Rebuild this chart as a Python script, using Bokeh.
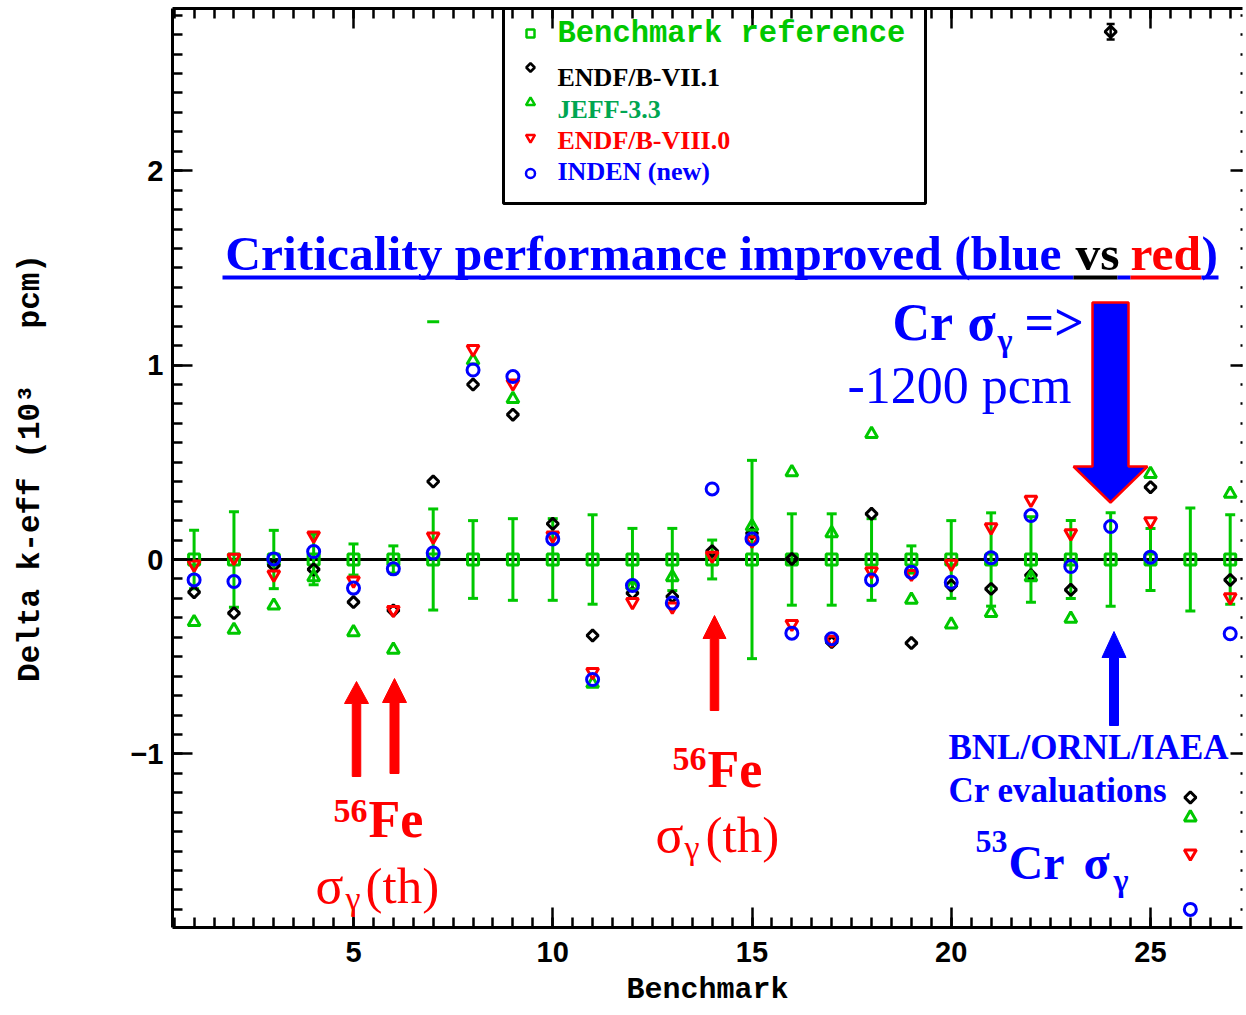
import math
import numpy as np
from bokeh.plotting import figure
from bokeh.models import (Range1d, LinearAxis, FixedTicker, Label, Whisker,
                          TeeHead, ColumnDataSource, Span, CustomLabelingPolicy)
from bokeh.embed import file_html
from bokeh.resources import INLINE

nan = float("nan")

# ---------------- data (units of 1000 pcm) ----------------
benchmark = list(range(1, 28))
reference = [0.0] * 27
reference_unc = [0.15, 0.245, 0.15, 0.13, 0.08, 0.07, 0.26, 0.20, 0.21, 0.21,
                 0.23, 0.16, 0.16, 0.10, 0.51, 0.235, 0.235, 0.21, 0.07, 0.20,
                 0.24, 0.22, 0.20, 0.24, 0.16, 0.265, 0.23]
endf_b_vii_1 = [-0.168, -0.276, -0.031, -0.051, -0.219, -0.262, 0.401, 0.900, 0.745, 0.184,
                -0.391, -0.173, -0.190, 0.043, 0.135, 0.003, -0.425, 0.235, -0.430, -0.134,
                -0.151, -0.081, -0.156, 2.715, 0.372, -1.224, -0.105]
endf_b_vii_1_unc = [0.0] * 23 + [0.04] + [0.0] * 3
jeff_3_3 = [-0.322, -0.362, -0.237, -0.091, -0.374, -0.464, nan, 1.023, 0.826, nan,
            -0.639, -0.134, -0.091, nan, 0.170, 0.449, 0.135, 0.646, -0.207, -0.334,
            -0.276, -0.091, -0.305, nan, 0.440, -1.327, 0.338]
jeff_3_3_extra_x = [7]
jeff_3_3_extra_y = [1.223]
endf_b_viii_0 = [-0.026, 0.009, -0.077, 0.123, -0.108, -0.259, 0.118, 1.083, 0.906, 0.123,
                 -0.579, -0.219, -0.242, 0.020, 0.098, -0.331, -0.413, -0.060, -0.074, -0.022,
                 0.166, 0.307, 0.135, nan, 0.197, -1.512, -0.194]
inden_new = [-0.105, -0.113, 0.003, 0.041, -0.147, -0.048, 0.033, 0.975, 0.941, 0.106,
             -0.617, -0.134, -0.224, 0.363, 0.106, -0.379, -0.408, -0.105, -0.065, -0.117,
             0.009, 0.226, -0.036, 0.170, 0.012, -1.800, -0.382]

legend_labels = ["Benchmark reference", "ENDF/B-VII.1", "JEFF-3.3", "ENDF/B-VIII.0", "INDEN (new)"]
x_ticks = [5, 10, 15, 20, 25]
x_tick_labels = ["5", "10", "15", "20", "25"]
y_ticks = [-1, 0, 1, 2]
y_tick_labels = ["\u22121", "0", "1", "2"]
x_title = "Benchmark"
y_title = "Delta k-eff (10\u00b3\u00a0\u00a0\u00a0pcm)"

# ---------------- styling ----------------
GREEN = "#00c800"
JEFF_TXT = "#00a651"
RED = "#ff0000"
BLUE = "#0000ff"
SERIF = "Liberation Serif"
MONO = "Liberation Mono"
SANS = "Liberation Sans"
BASE_SHIFT = 0.34  # label baseline correction (fraction of font size)

W, H = 1246, 1015
FL, FR, FT, FB = 172, 1242, 8, 927


def xd(px):
    return 5 + (px - 353) / 39.85


def yd(py):
    return (559 - py) / 194.4


p = figure(width=W, height=H, output_backend="svg", toolbar_location=None,
           x_range=Range1d(xd(FL), xd(FR)), y_range=Range1d(yd(FB), yd(FT)),
           x_axis_location=None, y_axis_location=None,
           min_border_left=FL, min_border_right=0,
           min_border_top=FT, min_border_bottom=H - FB)
p.outline_line_color = None
p.background_fill_color = "white"
p.border_fill_color = "white"
for g in p.grid:
    g.visible = False

x_minor = [round(v, 2) for v in np.arange(0.5, 27.5, 0.5)]
y_minor = [round(v, 2) for v in np.arange(-1.8, 2.85, 0.1)]


def make_axis(ticks, minor, major_in=20, minor_in=10, line=True, labels=False):
    ax = LinearAxis(ticker=FixedTicker(ticks=ticks, minor_ticks=minor))
    ax.axis_line_width = 3
    ax.axis_line_color = "black" if line else None
    ax.major_tick_in = major_in
    ax.major_tick_out = 0
    ax.minor_tick_in = minor_in
    ax.minor_tick_out = 0
    ax.major_tick_line_width = 2.5
    ax.minor_tick_line_width = 2.5
    if labels:
        ax.major_label_text_font = SANS
        ax.major_label_text_font_style = "bold"
        ax.major_label_text_font_size = "29px"
        ax.major_label_text_color = "black"
    else:
        ax.major_label_policy = CustomLabelingPolicy(code="return []")
        ax.major_label_text_font_size = "1px"
        ax.major_label_standoff = 0
    return ax


# bottom axis with tick labels and title
bottom = make_axis(x_ticks, x_minor, labels=True)
bottom.major_label_overrides = {t: s for t, s in zip(x_ticks, x_tick_labels)}
bottom.major_label_standoff = 14
bottom.axis_label = x_title
bottom.axis_label_text_font = MONO
bottom.axis_label_text_font_style = "bold"
bottom.axis_label_text_font_size = "30px"
bottom.axis_label_text_color = "black"
bottom.axis_label_standoff = 8
p.add_layout(bottom, "below")
p.add_layout(make_axis(x_ticks, x_minor), "above")

# left axis: ticks, labels and the title
left = make_axis(y_ticks, y_minor, labels=True)
left.major_label_overrides = {t: s for t, s in zip(y_ticks, y_tick_labels)}
left.major_label_standoff = 9
left.major_label_orientation = "horizontal"
left.axis_label = y_title
left.axis_label_text_font = MONO
left.axis_label_text_font_style = "bold"
left.axis_label_text_font_size = "31px"
left.axis_label_text_color = "black"
left.axis_label_standoff = 79
p.add_layout(left, "left")

p.add_layout(make_axis(y_ticks, y_minor, major_in=12, minor_in=2, line=False), "right")

# zero line
p.add_layout(Span(location=0, dimension="width", line_color="black",
                  line_width=3, level="underlay"))

# benchmark uncertainties
ref_src = ColumnDataSource(dict(
    x=benchmark,
    upper=[r + u for r, u in zip(reference, reference_unc)],
    lower=[r - u for r, u in zip(reference, reference_unc)]))
p.add_layout(Whisker(source=ref_src, base="x", upper="upper", lower="lower",
                     line_color=GREEN, line_width=3,
                     upper_head=TeeHead(size=10, line_color=GREEN, line_width=3),
                     lower_head=TeeHead(size=10, line_color=GREEN, line_width=3)))
e71_src = ColumnDataSource(dict(
    x=[b for b, u in zip(benchmark, endf_b_vii_1_unc) if u > 0],
    upper=[v + u for v, u in zip(endf_b_vii_1, endf_b_vii_1_unc) if u > 0],
    lower=[v - u for v, u in zip(endf_b_vii_1, endf_b_vii_1_unc) if u > 0]))
p.add_layout(Whisker(source=e71_src, base="x", upper="upper", lower="lower",
                     line_color="black", line_width=2.5,
                     upper_head=TeeHead(size=8, line_color="black", line_width=2.5),
                     lower_head=TeeHead(size=8, line_color="black", line_width=2.5)))

# markers
MS = 12
p.scatter(benchmark, reference, marker="square", size=11, line_color=GREEN,
          line_width=3, fill_color=None)
p.scatter(benchmark, endf_b_vii_1, marker="square", angle=math.pi / 4, size=8,
          line_color="black", line_width=3, fill_color=None)
p.scatter(benchmark, jeff_3_3, marker="triangle", size=MS, line_color=GREEN,
          line_width=3, fill_color=None)
p.scatter(jeff_3_3_extra_x, jeff_3_3_extra_y, marker="dash", size=12,
          line_color=GREEN, line_width=3)
p.scatter(benchmark, endf_b_viii_0, marker="inverted_triangle", size=MS,
          line_color=RED, line_width=3, fill_color=None)
p.scatter(benchmark, inden_new, marker="circle", size=MS, line_color=BLUE,
          line_width=3, fill_color=None)

# ---------------- legend box ----------------
p.quad(left=[xd(503)], right=[xd(925)], top=[yd(5)], bottom=[yd(203)],
       fill_color="white", line_color="black", line_width=3)
leg_marker_y = [33, 67, 102, 137, 173]
leg_marker = ["square", "square", "triangle", "inverted_triangle", "circle"]
leg_angle = [0, math.pi / 4, 0, 0, 0]
leg_size = [8, 6, 9, 9, 9]
leg_line = [GREEN, "black", GREEN, RED, BLUE]
for yy, m, a, s, c in zip(leg_marker_y, leg_marker, leg_angle, leg_size, leg_line):
    p.scatter([xd(530)], [yd(yy)], marker=m, angle=a, size=s, line_color=c,
              line_width=2.5, fill_color=None)


def lab(text, px, py, size, color, bold=False, font=SERIF, align="left"):
    """px, py: position of the text baseline in picture pixels."""
    py = py - BASE_SHIFT * size
    p.add_layout(Label(x=xd(px), y=yd(py), text=text,
                       text_font=font, text_font_size=f"{size}px",
                       text_font_style="bold" if bold else "normal",
                       text_color=color, text_align=align,
                       text_baseline="alphabetic"))


leg_text_base = [44, 86, 118, 149, 180]
leg_text_color = [GREEN, "black", JEFF_TXT, RED, BLUE]
leg_text_font = [MONO, SERIF, SERIF, SERIF, SERIF]
leg_text_size = [30.5, 26, 26, 26, 26]
for t, yy, c, f, s in zip(legend_labels, leg_text_base, leg_text_color,
                          leg_text_font, leg_text_size):
    lab(t, 557, yy, s, c, bold=True, font=f)

# ---------------- headline with coloured underline ----------------
lab("Criticality performance improved (blue", 1061, 270, 49.5, BLUE, bold=True, align="right")
lab("vs", 1075, 270, 49.5, "black", bold=True)
lab("red", 1130, 270, 49.5, RED, bold=True)
lab(")", 1201, 270, 49.5, BLUE, bold=True)
ul_x0 = [222, 1073, 1117, 1130, 1201]
ul_x1 = [1073, 1117, 1130, 1201, 1218]
ul_c = [BLUE, "black", BLUE, RED, BLUE]
p.segment(x0=[xd(v) for v in ul_x0], y0=[yd(277)] * 5,
          x1=[xd(v) for v in ul_x1], y1=[yd(277)] * 5, line_color=ul_c, line_width=4)


# ---------------- arrows ----------------
def up_arrow(xc, yb, yh, yt, sw, hw):
    pts = [(xc - sw / 2, yb), (xc - sw / 2, yh), (xc - hw / 2, yh), (xc, yt),
           (xc + hw / 2, yh), (xc + sw / 2, yh), (xc + sw / 2, yb)]
    return [xd(a) for a, b in pts], [yd(b) for a, b in pts]


for args in [(356, 776, 703, 681, 8.5, 24), (394, 773, 702, 678, 9, 24),
             (714, 710, 638, 615, 8.5, 23)]:
    xs, ys = up_arrow(*args)
    p.patch(xs, ys, fill_color=RED, line_color=RED, line_width=1)
xs, ys = up_arrow(1113.5, 725, 657, 631, 9, 24)
p.patch(xs, ys, fill_color=BLUE, line_color=BLUE, line_width=1)

big = [(1092, 302), (1128, 302), (1128, 466), (1147, 466), (1110, 502),
       (1073, 466), (1092, 466)]
p.patch([xd(a) for a, b in big], [yd(b) for a, b in big], fill_color=BLUE,
        line_color=RED, line_width=2.5)

# ---------------- annotations ----------------
lab("Cr", 892, 340, 52, BLUE, bold=True)
lab("\u03c3", 967, 340, 52, BLUE, bold=True)
lab("\u03b3", 997, 350, 32, BLUE, bold=True)
lab("=>", 1024, 340, 52, BLUE, bold=True)
lab("-1200 pcm", 847, 403, 52, BLUE)

for (x56, b56, xfe, bfe, xs_, bs_, xg, bg, xth) in [
        (333, 822, 368, 837, 315, 903, 345, 910, 365),
        (672, 770, 707, 787, 655, 852, 684, 859, 705)]:
    lab("56", x56, b56, 34, RED, bold=True)
    lab("Fe", xfe, bfe, 52, RED, bold=True)
    lab("\u03c3", xs_, bs_, 52, RED)
    lab("\u03b3", xg, bg, 34, RED)
    lab("(th)", xth, bs_, 51, RED)

lab("BNL/ORNL/IAEA", 948, 759, 35, BLUE, bold=True)
lab("Cr evaluations", 948, 802, 35, BLUE, bold=True)
lab("53", 975, 852, 32, BLUE, bold=True)
lab("Cr", 1008, 878, 48, BLUE, bold=True)
lab("\u03c3", 1083, 878, 48, BLUE, bold=True)
lab("\u03b3", 1113, 890, 32, BLUE, bold=True)

open("out.html", "w").write(file_html(p, INLINE))
